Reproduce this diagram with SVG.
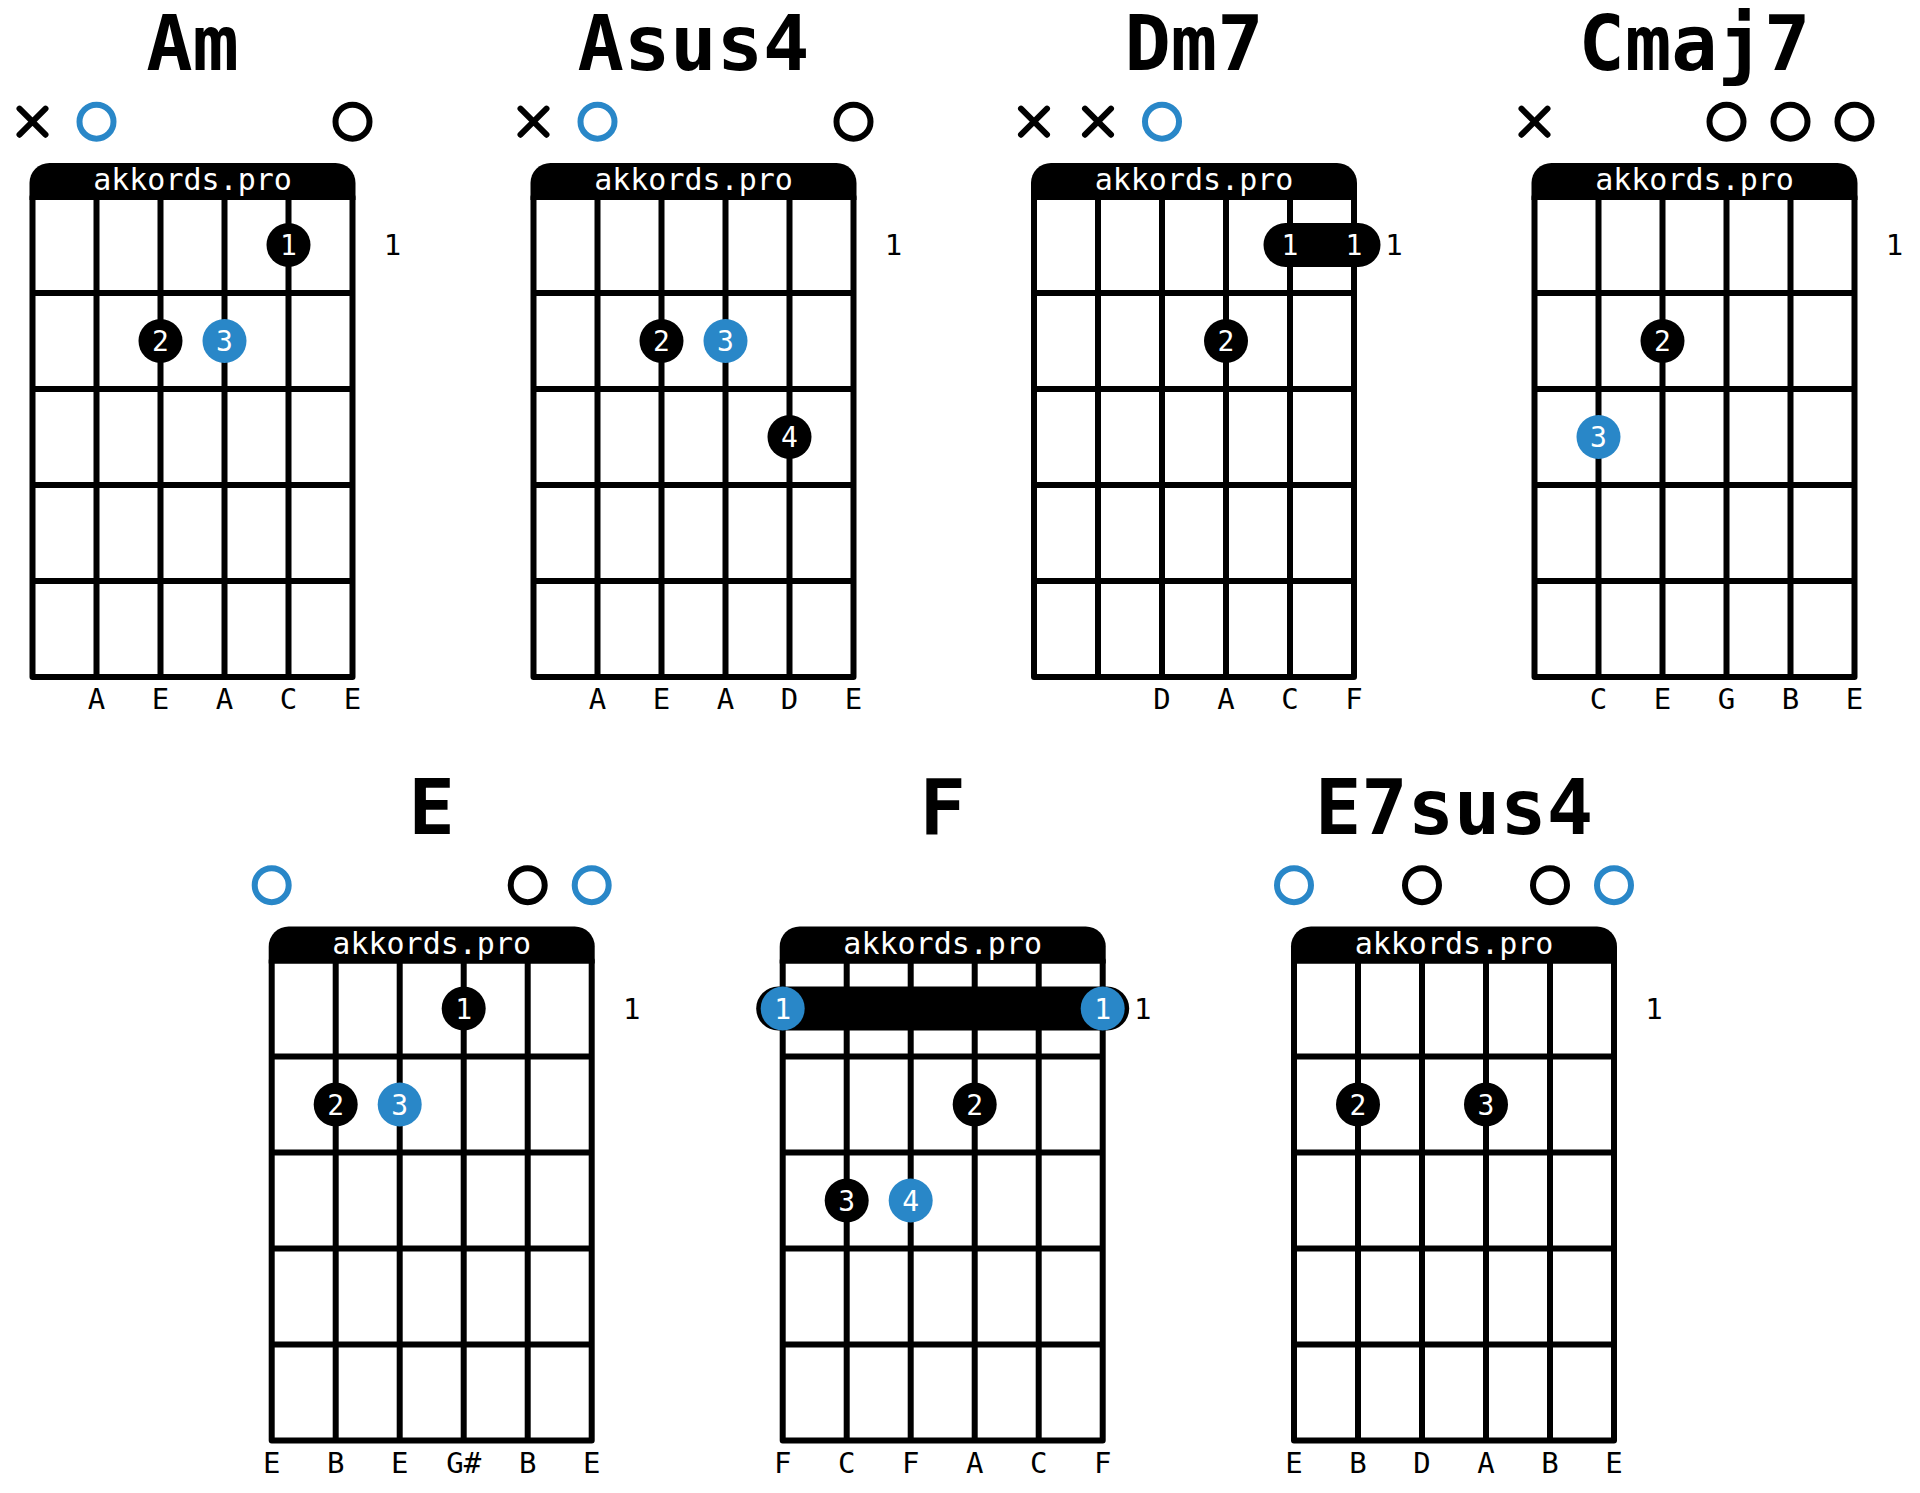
<svg xmlns="http://www.w3.org/2000/svg" xmlns:xlink="http://www.w3.org/1999/xlink" width="1920" height="1493" viewBox="0 0 1920 1493">
<style>
.title{font-family:"DejaVu Sans Mono","Liberation Mono",monospace;font-weight:bold;font-size:77px;text-anchor:middle;fill:#000}
.hdr{font-family:"DejaVu Sans Mono","Liberation Mono",monospace;font-size:30px;text-anchor:middle;fill:#fff}
.lbl{font-family:"DejaVu Sans Mono","Liberation Mono",monospace;font-size:29px;text-anchor:middle;fill:#000}
.dig{font-family:"DejaVu Sans Mono","Liberation Mono",monospace;font-size:28px;text-anchor:middle;fill:#fff}
.dot{fill:#000}
.dotb{fill:#2987c8}
.open{fill:none;stroke:#000;stroke-width:6}
.openb{fill:none;stroke:#2987c8;stroke-width:6}
.mute{stroke:#000;stroke-width:6;stroke-linecap:round;fill:none}
.grid{fill:none;stroke:#000;stroke-width:6}
</style>
<defs>
<g id="board">
<path d="M29.5,200 V183 A20,20 0 0 1 49.5,163 H335.5 A20,20 0 0 1 355.5,183 V200 Z" fill="#000"/>
<rect class="grid" x="32.5" y="197" width="320" height="480" stroke-linejoin="round"/>
<path class="grid" d="M96.5,197V677M160.5,197V677M224.5,197V677M288.5,197V677M32.5,293H352.5M32.5,389H352.5M32.5,485H352.5M32.5,581H352.5"/>
</g>
<path id="mx" class="mute" d="M-13,-13L13,13M13,-13L-13,13"/>
</defs>

<g id="chord-Am" transform="translate(0,0)">
<text class="title" x="192.5" y="70">Am</text>
<use xlink:href="#mx" x="32.5" y="121.7"/>
<circle class="openb" cx="96.5" cy="121.7" r="17"/>
<circle class="open" cx="352.5" cy="121.7" r="17"/>
<use xlink:href="#board"/>
<text class="hdr" x="192.5" y="190">akkords.pro</text>
<circle class="dot" cx="288.5" cy="245" r="22"/><text class="dig" x="288.5" y="255">1</text>
<circle class="dot" cx="160.5" cy="341" r="22"/><text class="dig" x="160.5" y="351">2</text>
<circle class="dotb" cx="224.5" cy="341" r="22"/><text class="dig" x="224.5" y="351">3</text>
<text class="lbl" x="392.5" y="255">1</text>
<text class="lbl" x="96.5" y="709">A</text><text class="lbl" x="160.5" y="709">E</text><text class="lbl" x="224.5" y="709">A</text><text class="lbl" x="288.5" y="709">C</text><text class="lbl" x="352.5" y="709">E</text>
</g>

<g id="chord-Asus4" transform="translate(501,0)">
<text class="title" x="192.5" y="70">Asus4</text>
<use xlink:href="#mx" x="32.5" y="121.7"/>
<circle class="openb" cx="96.5" cy="121.7" r="17"/>
<circle class="open" cx="352.5" cy="121.7" r="17"/>
<use xlink:href="#board"/>
<text class="hdr" x="192.5" y="190">akkords.pro</text>
<circle class="dot" cx="160.5" cy="341" r="22"/><text class="dig" x="160.5" y="351">2</text>
<circle class="dotb" cx="224.5" cy="341" r="22"/><text class="dig" x="224.5" y="351">3</text>
<circle class="dot" cx="288.5" cy="437" r="22"/><text class="dig" x="288.5" y="447">4</text>
<text class="lbl" x="392.5" y="255">1</text>
<text class="lbl" x="96.5" y="709">A</text><text class="lbl" x="160.5" y="709">E</text><text class="lbl" x="224.5" y="709">A</text><text class="lbl" x="288.5" y="709">D</text><text class="lbl" x="352.5" y="709">E</text>
</g>

<g id="chord-Dm7" transform="translate(1001.5,0)">
<text class="title" x="192.5" y="70">Dm7</text>
<use xlink:href="#mx" x="32.5" y="121.7"/>
<use xlink:href="#mx" x="96.5" y="121.7"/>
<circle class="openb" cx="160.5" cy="121.7" r="17"/>
<use xlink:href="#board"/>
<text class="hdr" x="192.5" y="190">akkords.pro</text>
<rect class="dot" x="262" y="223" width="117" height="44" rx="22"/>
<text class="dig" x="288.5" y="255">1</text><text class="dig" x="352.5" y="255">1</text>
<circle class="dot" cx="224.5" cy="341" r="22"/><text class="dig" x="224.5" y="351">2</text>
<text class="lbl" x="392.5" y="255">1</text>
<text class="lbl" x="160.5" y="709">D</text><text class="lbl" x="224.5" y="709">A</text><text class="lbl" x="288.5" y="709">C</text><text class="lbl" x="352.5" y="709">F</text>
</g>

<g id="chord-Cmaj7" transform="translate(1502,0)">
<text class="title" x="192.5" y="70">Cmaj7</text>
<use xlink:href="#mx" x="32.5" y="121.7"/>
<circle class="open" cx="224.5" cy="121.7" r="17"/>
<circle class="open" cx="288.5" cy="121.7" r="17"/>
<circle class="open" cx="352.5" cy="121.7" r="17"/>
<use xlink:href="#board"/>
<text class="hdr" x="192.5" y="190">akkords.pro</text>
<circle class="dot" cx="160.5" cy="341" r="22"/><text class="dig" x="160.5" y="351">2</text>
<circle class="dotb" cx="96.5" cy="437" r="22"/><text class="dig" x="96.5" y="447">3</text>
<text class="lbl" x="392.5" y="255">1</text>
<text class="lbl" x="96.5" y="709">C</text><text class="lbl" x="160.5" y="709">E</text><text class="lbl" x="224.5" y="709">G</text><text class="lbl" x="288.5" y="709">B</text><text class="lbl" x="352.5" y="709">E</text>
</g>

<g id="chord-E" transform="translate(239.2,763.5)">
<text class="title" x="192.5" y="70">E</text>
<circle class="openb" cx="32.5" cy="121.7" r="17"/>
<circle class="open" cx="288.5" cy="121.7" r="17"/>
<circle class="openb" cx="352.5" cy="121.7" r="17"/>
<use xlink:href="#board"/>
<text class="hdr" x="192.5" y="190">akkords.pro</text>
<circle class="dot" cx="224.5" cy="245" r="22"/><text class="dig" x="224.5" y="255">1</text>
<circle class="dot" cx="96.5" cy="341" r="22"/><text class="dig" x="96.5" y="351">2</text>
<circle class="dotb" cx="160.5" cy="341" r="22"/><text class="dig" x="160.5" y="351">3</text>
<text class="lbl" x="392.5" y="255">1</text>
<text class="lbl" x="32.5" y="709">E</text><text class="lbl" x="96.5" y="709">B</text><text class="lbl" x="160.5" y="709">E</text><text class="lbl" x="224.5" y="709">G#</text><text class="lbl" x="288.5" y="709">B</text><text class="lbl" x="352.5" y="709">E</text>
</g>

<g id="chord-F" transform="translate(750.2,763.5)">
<text class="title" x="192.5" y="70">F</text>
<use xlink:href="#board"/>
<text class="hdr" x="192.5" y="190">akkords.pro</text>
<rect class="dot" x="6" y="223" width="373" height="44" rx="22"/>
<circle class="dotb" cx="32.5" cy="245" r="22"/><text class="dig" x="32.5" y="255">1</text>
<circle class="dotb" cx="352.5" cy="245" r="22"/><text class="dig" x="352.5" y="255">1</text>
<circle class="dot" cx="224.5" cy="341" r="22"/><text class="dig" x="224.5" y="351">2</text>
<circle class="dot" cx="96.5" cy="437" r="22"/><text class="dig" x="96.5" y="447">3</text>
<circle class="dotb" cx="160.5" cy="437" r="22"/><text class="dig" x="160.5" y="447">4</text>
<text class="lbl" x="392.5" y="255">1</text>
<text class="lbl" x="32.5" y="709">F</text><text class="lbl" x="96.5" y="709">C</text><text class="lbl" x="160.5" y="709">F</text><text class="lbl" x="224.5" y="709">A</text><text class="lbl" x="288.5" y="709">C</text><text class="lbl" x="352.5" y="709">F</text>
</g>

<g id="chord-E7sus4" transform="translate(1261.5,763.5)">
<text class="title" x="192.5" y="70">E7sus4</text>
<circle class="openb" cx="32.5" cy="121.7" r="17"/>
<circle class="open" cx="160.5" cy="121.7" r="17"/>
<circle class="open" cx="288.5" cy="121.7" r="17"/>
<circle class="openb" cx="352.5" cy="121.7" r="17"/>
<use xlink:href="#board"/>
<text class="hdr" x="192.5" y="190">akkords.pro</text>
<circle class="dot" cx="96.5" cy="341" r="22"/><text class="dig" x="96.5" y="351">2</text>
<circle class="dot" cx="224.5" cy="341" r="22"/><text class="dig" x="224.5" y="351">3</text>
<text class="lbl" x="392.5" y="255">1</text>
<text class="lbl" x="32.5" y="709">E</text><text class="lbl" x="96.5" y="709">B</text><text class="lbl" x="160.5" y="709">D</text><text class="lbl" x="224.5" y="709">A</text><text class="lbl" x="288.5" y="709">B</text><text class="lbl" x="352.5" y="709">E</text>
</g>
</svg>
